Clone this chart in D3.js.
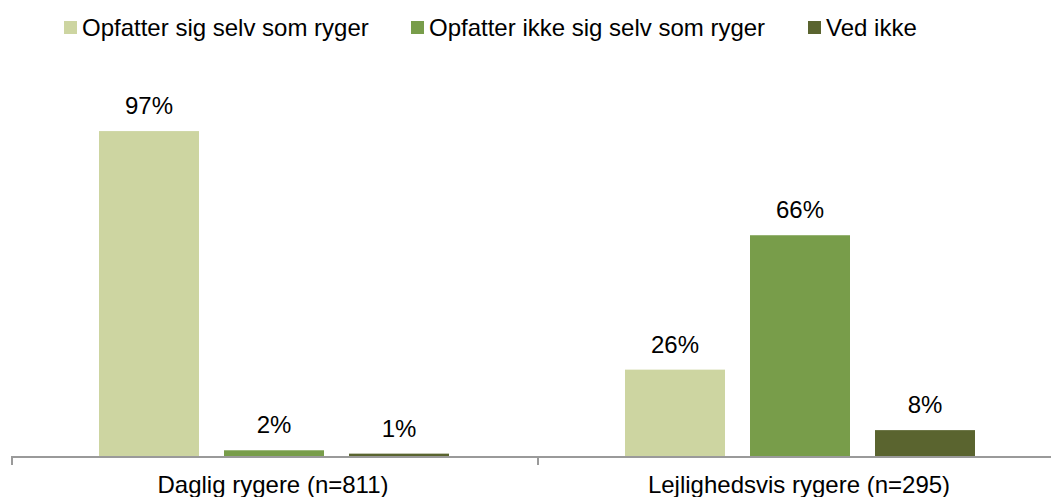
<!DOCTYPE html>
<html>
<head>
<meta charset="utf-8">
<script src="https://cdn.jsdelivr.net/npm/d3@7"></script>
<style>
  body { margin: 0; background: #fff; }
  text { font-family: "Liberation Sans", Arial, sans-serif; fill: #000; font-size: 24px; }
</style>
</head>
<body>
<svg id="chart" width="1051" height="497"></svg>
<script>
const categories = ["Daglig rygere (n=811)", "Lejlighedsvis rygere (n=295)"]
const series = ["Opfatter sig selv som ryger", "Opfatter ikke sig selv som ryger", "Ved ikke"]
const selvRyger = [0.97, 0.26]
const ikkeRyger = [0.02, 0.66]
const vedIkke = [0.01, 0.08]
const colors = ["#cdd5a1", "#789d4a", "#5a642f"]

const values = [selvRyger, ikkeRyger, vedIkke]

const svg = d3.select("#chart")
const baseY = 457

const x0 = d3.scaleBand()
  .domain(categories)
  .range([11, 1063])

const x1 = d3.scaleBand()
  .domain(series)
  .range([88, 438])
  .paddingInner(0.2)
  .paddingOuter(0)

const y = d3.scaleLinear()
  .domain([0, 1])
  .range([baseY, baseY - 336])

const groups = svg.selectAll("g.group")
  .data(categories)
  .enter()
  .append("g")
  .attr("class", "group")
  .attr("transform", d => `translate(${x0(d)},0)`)

series.forEach((s, si) => {
  groups.append("rect")
    .attr("x", x1(s))
    .attr("width", x1.bandwidth())
    .attr("y", (d, ci) => y(values[si][ci]))
    .attr("height", (d, ci) => baseY - y(values[si][ci]))
    .attr("fill", colors[si])

  groups.append("text")
    .attr("x", x1(s) + x1.bandwidth() / 2)
    .attr("y", (d, ci) => y(values[si][ci]) - 17)
    .attr("text-anchor", "middle")
    .text((d, ci) => d3.format(".0%")(values[si][ci]))
})

// axis
const axis = svg.append("g")
axis.append("line")
  .attr("x1", 11).attr("x2", 1051)
  .attr("y1", baseY).attr("y2", baseY)
  .attr("stroke", "#9a9a9a")
  .attr("stroke-width", 2)

axis.selectAll("line.tick")
  .data(categories)
  .enter()
  .append("line")
  .attr("class", "tick")
  .attr("x1", d => x0(d) + 1).attr("x2", d => x0(d) + 1)
  .attr("y1", baseY).attr("y2", baseY + 8)
  .attr("stroke", "#9a9a9a")
  .attr("stroke-width", 2)

axis.selectAll("text.cat")
  .data(categories)
  .enter()
  .append("text")
  .attr("class", "cat")
  .attr("x", d => x0(d) + x0.bandwidth() / 2 - 1)
  .attr("y", 493)
  .attr("text-anchor", "middle")
  .text(d => d)

// legend
const legendX = [64, 411, 808]
const legend = svg.selectAll("g.legend")
  .data(series)
  .enter()
  .append("g")
  .attr("class", "legend")
  .attr("transform", (d, i) => `translate(${legendX[i]},0)`)

legend.append("rect")
  .attr("x", 0).attr("y", 21)
  .attr("width", 13).attr("height", 13)
  .attr("fill", (d, i) => colors[i])

legend.append("text")
  .attr("x", 18)
  .attr("y", 36)
  .text(d => d)
</script>
</body>
</html>
